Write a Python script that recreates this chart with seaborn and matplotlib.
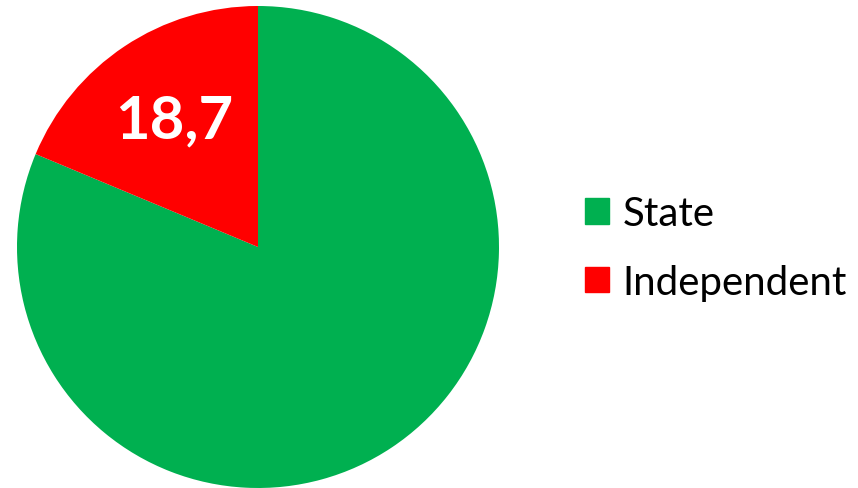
import matplotlib
matplotlib.use("Agg")
import matplotlib.pyplot as plt
import matplotlib.patches as mpatches
import seaborn as sns
import numpy as np

# shares in percent
categories = ["State", "Independent"]
shares = [81.3, 18.7]
colors = ["#00B050", "#FF0000"]

sns.set_theme(style="white")
plt.rcParams["font.family"] = ["Lato", "DejaVu Sans"]
plt.rcParams["text.color"] = "black"

fig = plt.figure(figsize=(8.58, 4.89), dpi=100)
# pie centre ~ (258, 248) px, radius ~241 px
ax = fig.add_axes([17 / 858, 0, 482 / 858, 482 / 489])

wedges, texts = ax.pie(shares, colors=colors, startangle=90, counterclock=False,
                       radius=1.0, wedgeprops=dict(linewidth=0))
ax.set_xlim(-1, 1)
ax.set_ylim(-1, 1)
ax.set_aspect("equal")

# only the independent slice carries a label
w = wedges[1]
mid = np.deg2rad((w.theta1 + w.theta2) / 2)
r = 0.63
ax.text(r * np.cos(mid), r * np.sin(mid), f"{shares[1]:.1f}".replace(".", ","),
        ha="center", va="center", color="white", fontsize=43, fontweight="bold")

handles = [mpatches.Patch(color=c, label=l) for c, l in zip(colors, categories)]
fig.legend(handles=handles, loc="center left", bbox_to_anchor=(585 / 858, 1 - 249 / 489),
           frameon=False, fontsize=29, handlelength=0.6, handleheight=0.6,
           handletextpad=0.33, labelspacing=0.78, borderpad=0, borderaxespad=0,
           labelcolor="black")

fig.savefig("out.png", dpi=100)
